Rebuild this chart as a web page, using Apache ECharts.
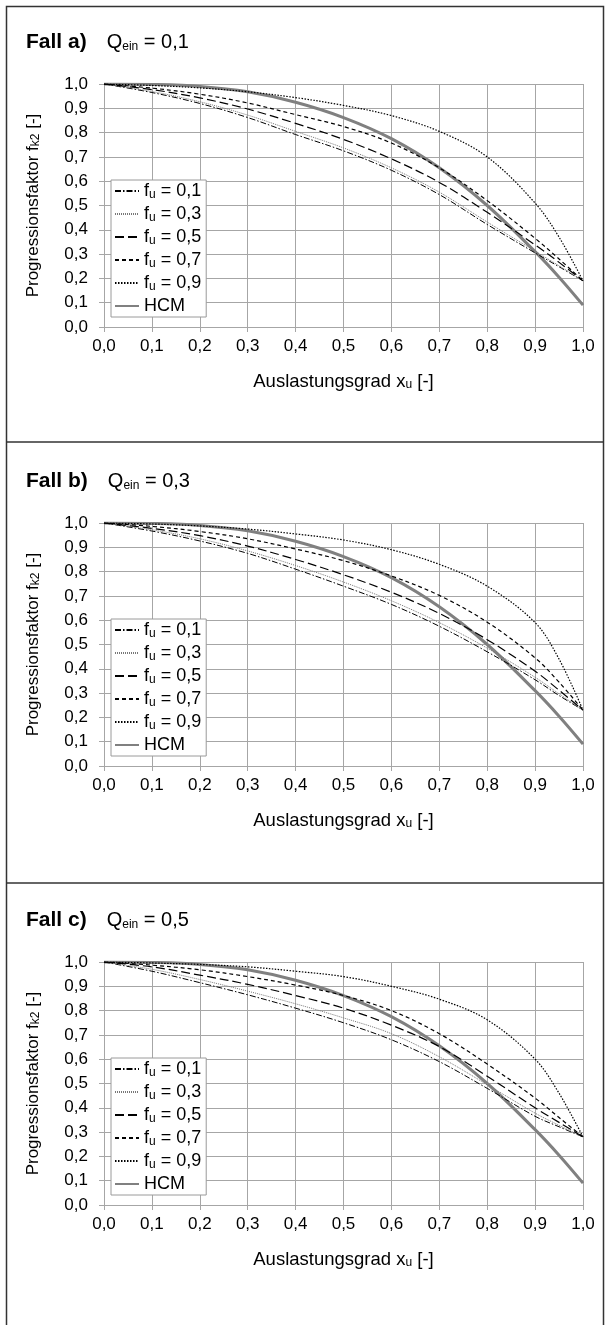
<!DOCTYPE html>
<html><head><meta charset="utf-8">
<script src="https://cdn.jsdelivr.net/npm/echarts@6/dist/echarts.min.js"></script>
<style>html,body{margin:0;padding:0;background:#fff}#c{width:605px;height:1325px}</style>
</head><body><div id="c"></div>
<script>
// x positions (Auslastungsgrad x_u)
const xs = [0, 0.1, 0.2, 0.3, 0.4, 0.5, 0.6, 0.7, 0.8, 0.9, 0.95, 1.0];
const tickLabels = ['0,0','0,1','0,2','0,3','0,4','0,5','0,6','0,7','0,8','0,9','1,0'];
const panelTitles = ['Fall a)', 'Fall b)', 'Fall c)'];
const panelQ = ['0,1', '0,3', '0,5'];
const seriesNames = ['fu01', 'fu03', 'fu05', 'fu07', 'fu09', 'HCM'];
const legendLabels = ['0,1', '0,3', '0,5', '0,7', '0,9', 'HCM'];

// Fall a) Q_ein = 0,1
const fu01_a = [1.0,0.965,0.92,0.862,0.792,0.725,0.645,0.545,0.422,0.305,0.248,0.19];
const fu03_a = [1.0,0.969,0.927,0.872,0.805,0.737,0.655,0.555,0.432,0.312,0.252,0.19];
const fu05_a = [1.0,0.977,0.943,0.897,0.838,0.772,0.692,0.595,0.472,0.338,0.266,0.19];
const fu07_a = [1.0,0.983,0.958,0.922,0.874,0.825,0.757,0.655,0.52,0.365,0.28,0.19];
const fu09_a = [1.0,0.994,0.984,0.968,0.944,0.912,0.87,0.805,0.70,0.51,0.37,0.19];
// Fall b) Q_ein = 0,3
const fu01_b = [1.0,0.967,0.926,0.875,0.81,0.74,0.665,0.575,0.47,0.355,0.29,0.23];
const fu03_b = [1.0,0.972,0.935,0.885,0.825,0.757,0.68,0.59,0.485,0.365,0.297,0.23];
const fu05_b = [1.0,0.978,0.948,0.905,0.85,0.787,0.715,0.628,0.52,0.39,0.312,0.23];
const fu07_b = [1.0,0.986,0.965,0.935,0.893,0.845,0.782,0.702,0.592,0.445,0.345,0.23];
const fu09_b = [1.0,0.996,0.988,0.975,0.955,0.93,0.89,0.83,0.74,0.59,0.44,0.23];
// Fall c) Q_ein = 0,5
const fu01_c = [1.0,0.962,0.915,0.865,0.81,0.75,0.68,0.59,0.48,0.365,0.322,0.28];
const fu03_c = [1.0,0.97,0.928,0.88,0.828,0.77,0.705,0.61,0.495,0.378,0.328,0.28];
const fu05_c = [1.0,0.98,0.946,0.908,0.862,0.81,0.74,0.652,0.53,0.40,0.34,0.28];
const fu07_c = [1.0,0.987,0.968,0.94,0.905,0.862,0.80,0.705,0.58,0.44,0.36,0.28];
const fu09_c = [1.0,0.996,0.99,0.98,0.962,0.94,0.90,0.847,0.762,0.60,0.46,0.28];
// HCM (same in all panels)
const hcm = [1.0,0.998,0.99,0.968,0.925,0.862,0.775,0.655,0.50,0.31,0.205,0.09];

const panels = [
  [fu01_a, fu03_a, fu05_a, fu07_a, fu09_a, hcm],
  [fu01_b, fu03_b, fu05_b, fu07_b, fu09_b, hcm],
  [fu01_c, fu03_c, fu05_c, fu07_c, fu09_c, hcm]
];

const FONT = 'Liberation Sans, Arial, sans-serif';
const styles = [
  {color:'#000', width:1, type:[6,2,1.5,2]},
  {color:'#777', width:1, type:[1,1]},
  {color:'#000', width:1.2, type:[9,4]},
  {color:'#000', width:1.2, type:[4,3]},
  {color:'#000', width:1.2, type:[1.5,1.5]},
  {color:'#808080', width:3, type:'solid'}
];

const OFF = 439;
const grids = [], xAxes = [], yAxes = [], series = [], titles = [], legends = [];
const fmt = v => tickLabels[Math.round(v * 10)];
const sub = {fontSize: 12, fontFamily: FONT, color:'#000', verticalAlign:'bottom', lineHeight: 12, padding:[7,0,0,0]};

for (let p = 0; p < 3; p++) {
  const top = 84 + p * OFF;
  grids.push({left: 104, top: top, width: 479, height: 243});
  xAxes.push({
    gridIndex: p, type: 'value', min: 0, max: 1, interval: 0.1,
    name: '{n|Auslastungsgrad x}{s|u}{n| [-]}', nameLocation: 'middle', nameGap: 45,
    nameTextStyle: {rich: {n: {fontSize: 18.5, fontFamily: FONT, color:'#000'}, s: sub}},
    axisLine: {lineStyle: {color: '#a6a6a6'}},
    axisTick: {show: true, length: 5, lineStyle: {color: '#a6a6a6'}},
    axisLabel: {formatter: fmt, fontSize: 17, fontFamily: FONT, color: '#000', margin: 11},
    splitLine: {show: true, lineStyle: {color: '#a6a6a6', width: 1}}
  });
  yAxes.push({
    gridIndex: p, type: 'value', min: 0, max: 1, interval: 0.1,
    name: '{n|Progressionsfaktor f}{s|k2}{n| [-]}', nameLocation: 'middle', nameGap: 62,
    nameTextStyle: {rich: {n: {fontSize: 17, fontFamily: FONT, color:'#000'}, s: sub}},
    axisLine: {show: true, lineStyle: {color: '#a6a6a6'}},
    axisTick: {show: true, length: 5, lineStyle: {color: '#a6a6a6'}},
    axisLabel: {formatter: fmt, fontSize: 17, fontFamily: FONT, color: '#000', margin: 16},
    splitLine: {show: true, lineStyle: {color: '#a6a6a6', width: 1}}
  });
  panels[p].forEach((arr, i) => {
    series.push({
      name: seriesNames[i], type: 'line', xAxisIndex: p, yAxisIndex: p,
      data: xs.map((x, k) => [x, arr[k]]),
      showSymbol: false, symbol: 'none', smooth: 0.35,
      lineStyle: styles[i], itemStyle: {color: styles[i].color},
      z: i === 5 ? 2 : 3, silent: true, animation: false
    });
  });
  titles.push({
    text: '{b|' + panelTitles[p] + '}{n|Q}{s|ein}{n| = ' + panelQ[p] + '}',
    left: 21, top: 27 + p * OFF,
    textStyle: {rich: {
      b: {fontSize: 21, fontWeight: 'bold', fontFamily: FONT, color: '#000', padding: [0, 20, 0, 0]},
      n: {fontSize: 20, fontWeight: 'normal', fontFamily: FONT, color: '#000'},
      s: {fontSize: 12, fontWeight: 'normal', fontFamily: FONT, color: '#000', verticalAlign: 'bottom', lineHeight: 12, padding: [8,0,0,0]}
    }}
  });
  legends.push({
    data: seriesNames, orient: 'vertical', left: 111, top: 180 + p * OFF,
    backgroundColor: '#fff', borderColor: '#9a9a9a', borderWidth: 1,
    padding: [2, 5, 2, 3], itemGap: 4, itemWidth: 24, itemHeight: 14,
    selectedMode: false,
    itemStyle: {opacity: 0},
    formatter: name => {
      const i = seriesNames.indexOf(name);
      return i === 5 ? '{t|HCM}' : '{t|f}{s|u}{t| = ' + legendLabels[i] + '}';
    },
    textStyle: {rich: {
      t: {fontSize: 18, fontFamily: FONT, color: '#000', lineHeight: 20},
      s: {fontSize: 12, fontFamily: FONT, color: '#000', verticalAlign: 'bottom', lineHeight: 12, padding: [7,0,0,0]}
    }}
  });
}

const chart = echarts.init(document.getElementById('c'), null, {renderer: 'canvas'});
chart.setOption({
  animation: false,
  title: titles, legend: legends,
  grid: grids, xAxis: xAxes, yAxis: yAxes, series: series,
  graphic: [
    {type: 'rect', shape: {x: 6.5, y: 6.5, width: 597, height: 1330}, style: {fill: 'none', stroke: '#333', lineWidth: 1.5}, silent: true},
    {type: 'line', shape: {x1: 6.5, y1: 442, x2: 603.5, y2: 442}, style: {stroke: '#333', lineWidth: 1.5}, silent: true},
    {type: 'line', shape: {x1: 6.5, y1: 883, x2: 603.5, y2: 883}, style: {stroke: '#333', lineWidth: 1.5}, silent: true}
  ]
});
</script></body></html>
